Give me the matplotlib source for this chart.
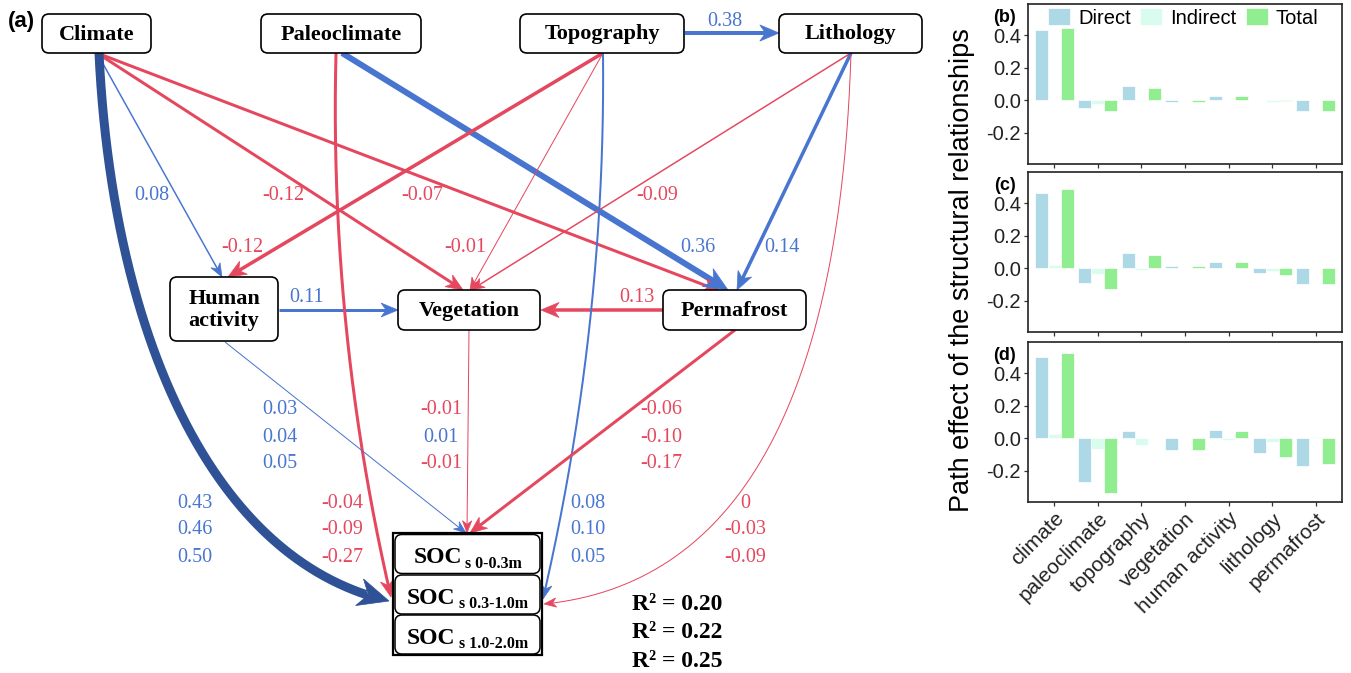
import numpy as np
import matplotlib
matplotlib.use("Agg")
import matplotlib.pyplot as plt
from matplotlib.patches import FancyBboxPatch, Polygon, Rectangle

# ---- path model (a) ----
nodes = ["Climate", "Paleoclimate", "Topography", "Lithology",
         "Human\nactivity", "Vegetation", "Permafrost"]

# paths between predictors
path_from = ["Climate", "Climate", "Climate", "Paleoclimate", "Topography",
             "Topography", "Topography", "Lithology", "Lithology",
             "Human\nactivity", "Permafrost"]
path_to = ["Human\nactivity", "Vegetation", "Permafrost", "Permafrost", "Lithology",
           "Human\nactivity", "Vegetation", "Vegetation", "Permafrost",
           "Vegetation", "Vegetation"]
path_coef = [0.08, -0.12, -0.07, 0.36, 0.38, -0.12, -0.01, -0.09, 0.14, 0.11, 0.13]

# paths to SOC for the three depth layers
soc_layers = ["0-0.3m", "0.3-1.0m", "1.0-2.0m"]
soc_from = ["Climate", "Paleoclimate", "Topography", "Lithology",
            "Human\nactivity", "Vegetation", "Permafrost"]
soc_coef = [[0.43, 0.46, 0.50],
            [-0.04, -0.09, -0.27],
            [0.08, 0.10, 0.05],
            [0, -0.03, -0.09],
            [0.03, 0.04, 0.05],
            [-0.01, 0.01, -0.01],
            [-0.06, -0.10, -0.17]]
r_squared = [0.20, 0.22, 0.25]

# ---- bar panels (b)-(d) ----
factors = ["climate", "paleoclimate", "topography", "vegetation",
           "human activity", "lithology", "permafrost"]
direct = [[0.43, -0.045, 0.086, -0.01, 0.027, 0.005, -0.068],
          [0.464, -0.088, 0.096, 0.012, 0.041, -0.029, -0.098],
          [0.50, -0.27, 0.045, -0.072, 0.053, -0.09, -0.17]]
indirect = [[0.005, -0.02, -0.004, 0.0, 0.0, -0.008, 0.0],
            [0.018, -0.037, -0.012, 0.0, 0.0, -0.014, 0.0],
            [0.025, -0.068, -0.043, 0.0, -0.01, -0.025, 0.008]]
total = [[0.44, -0.065, 0.078, -0.01, 0.027, -0.004, -0.068],
         [0.484, -0.125, 0.08, 0.012, 0.041, -0.042, -0.098],
         [0.525, -0.334, 0.004, -0.072, 0.043, -0.115, -0.16]]

BLUE = "#4875d0"
RED = "#e5485e"
NAVY = "#2f5195"
SERIF = "Liberation Serif"
SANS = "Liberation Sans"

# node boxes: centre x, centre y, width, height (pixel units)
node_box = {
    "Climate": (96.5, 33.5, 109, 39),
    "Paleoclimate": (341, 33.5, 160, 39),
    "Topography": (602, 33.5, 164, 39),
    "Lithology": (850.5, 33.5, 143, 39),
    "Human\nactivity": (224, 309, 108, 64),
    "Vegetation": (469, 310, 142, 40),
    "Permafrost": (734.5, 310, 143, 40),
}

# edge geometry: start, tip, bezier controls, width px, colour, label position
path_style = [
    ((97, 53), (222, 277), None, 1.5, BLUE, (152, 195)),
    ((97, 53), (463, 290), None, 3, RED, (283, 195)),
    ((97, 53), (720, 291), None, 3, RED, (422, 195)),
    ((342, 53), (728, 290), None, 6, BLUE, (698, 247)),
    ((685, 33), (779, 33), None, 4, BLUE, (725, 22)),
    ((603, 53), (228, 277), None, 3.5, RED, (242, 247)),
    ((603, 53), (470, 290), None, 1, RED, (465, 247)),
    ((851, 53), (471, 290), None, 1.5, RED, (657, 195)),
    ((851, 53), (737, 290), None, 3.5, BLUE, (782, 247)),
    ((279, 310), (398, 310), None, 3, BLUE, (307, 297)),
    ((663, 310), (541, 310), None, 3.5, RED, (637, 297)),
]
soc_style = [
    ((99, 53), (389, 601), [(112, 330), (210, 560)], 9, NAVY, (195, 503)),
    ((336, 53), (391, 597), [(329, 330)], 3, RED, (342, 503)),
    ((603, 53), (543, 599), [(606, 326)], 2, BLUE, (588, 503)),
    ((851, 53), (544, 604), [(835, 575)], 1, RED, (745, 503)),
    ((225, 342), (466, 533), None, 1, BLUE, (280, 410)),
    ((469, 330), (467, 533), None, 1, RED, (441, 410)),
    ((735, 330), (470, 533), None, 3, RED, (661, 410)),
]


def fmt(v):
    return "0" if v == 0 else f"{v:.2f}"


def bezier(p0, p1, ctrl, n=400):
    t = np.linspace(0, 1, n)[:, None]
    if ctrl is None:
        return (1 - t) * p0 + t * p1
    c = [np.array(q, float) for q in ctrl]
    if len(c) == 1:
        return (1 - t) ** 2 * p0 + 2 * (1 - t) * t * c[0] + t ** 2 * p1
    return ((1 - t) ** 3 * p0 + 3 * (1 - t) ** 2 * t * c[0]
            + 3 * (1 - t) * t ** 2 * c[1] + t ** 3 * p1)


def draw_arrow(ax, p0, p1, ctrl, lw_px, color):
    p0, p1 = np.array(p0, float), np.array(p1, float)
    pts = bezier(p0, p1, ctrl)
    seg = np.hypot(*np.diff(pts, axis=0).T)
    to_tip = np.concatenate([np.cumsum(seg[::-1])[::-1], [0]])
    head_len = 10 + 2.3 * lw_px
    head_w = 7 + 2.3 * lw_px
    base = pts[np.where(to_tip >= head_len)[0][-1]]
    u = (p1 - base) / np.hypot(*(p1 - base))
    n = np.array([-u[1], u[0]])
    back = p1 - head_len * u
    notch = p1 - 0.7 * head_len * u
    keep = pts[to_tip > 0.7 * head_len]
    line = np.vstack([keep, notch])
    ax.plot(line[:, 0], line[:, 1], color=color, lw=lw_px * 0.72,
            solid_capstyle="butt", zorder=2)
    ax.add_patch(Polygon([p1, back + n * head_w / 2, notch, back - n * head_w / 2],
                         closed=True, fc=color, ec=color, lw=0.5, zorder=3))


fig = plt.figure(figsize=(13.51, 6.73), dpi=100)
ax = fig.add_axes([0, 0, 1, 1])
ax.set_xlim(0, 1351)
ax.set_ylim(673, 0)
ax.axis("off")

for name in nodes:
    cx, cy, w, h = node_box[name]
    ax.add_patch(FancyBboxPatch((cx - w / 2, cy - h / 2), w, h,
                                boxstyle="round,pad=0,rounding_size=7",
                                fc="white", ec="black", lw=1.2, zorder=4))
    ax.text(cx, cy + 1, name, ha="center", va="center", family=SERIF,
            fontweight="bold", fontsize=16, linespacing=1.15, zorder=5)

for coef, (p0, p1, ctrl, lw, col, lab) in zip(path_coef, path_style):
    draw_arrow(ax, p0, p1, ctrl, lw, col)
    ax.text(*lab, fmt(coef), ha="center", va="center", family=SERIF,
            fontsize=14.5, color=col, zorder=6)

for coefs, (p0, p1, ctrl, lw, col, lab) in zip(soc_coef, soc_style):
    draw_arrow(ax, p0, p1, ctrl, lw, col)
    for k, v in enumerate(coefs):
        ax.text(lab[0], lab[1] + 27 * k, fmt(v), ha="center", va="center",
                family=SERIF, fontsize=14.5, color=BLUE if v > 0 else RED, zorder=6)

# stacked SOC boxes
ax.add_patch(Rectangle((393, 533), 149, 122, fc="white", ec="black", lw=1.6, zorder=4))
renderer = fig.canvas.get_renderer()
box_cy = [554, 594.5, 634.5]
for layer, cy in zip(soc_layers, box_cy):
    ax.add_patch(FancyBboxPatch((395, cy - 19.5), 145, 39,
                                boxstyle="round,pad=0,rounding_size=7",
                                fc="white", ec="black", lw=1.1, zorder=5))
    t1 = ax.text(0, cy + 9, "SOC", ha="left", va="baseline", family=SERIF,
                 fontweight="bold", fontsize=17, zorder=6)
    t2 = ax.text(0, cy + 14, "s " + layer, ha="left", va="baseline", family=SERIF,
                 fontweight="bold", fontsize=11.5, zorder=6)
    w1 = t1.get_window_extent(renderer).width
    w2 = t2.get_window_extent(renderer).width
    x0 = 467.5 - (w1 + 3 + w2) / 2
    t1.set_x(x0)
    t2.set_x(x0 + w1 + 3)

for k, r2 in enumerate(r_squared):
    ax.text(632, 610 + 28.5 * k, f"R\u00b2 = {r2:.2f}", ha="left", va="baseline",
            family=SERIF, fontweight="bold", fontsize=17)

ax.text(8, 21, "(a)", ha="left", va="center", family=SANS,
        fontweight="bold", fontsize=16)

# ---- bar panels ----
W, H = 1351, 673
tops = [4, 172, 342]
x = np.arange(1, len(factors) + 1)
bw = 0.3
cols = {"Direct": "#add8e6", "Indirect": "#d9fcef", "Total": "#90ee90"}
for i, top in enumerate(tops):
    bax = fig.add_axes([1028 / W, 1 - (top + 160) / H, 314 / W, 160 / H])
    for off, key, vals in [(-bw, "Direct", direct[i]), (0, "Indirect", indirect[i]),
                           (bw, "Total", total[i])]:
        bax.bar(x + off, vals, width=bw, color=cols[key], edgecolor="white",
                linewidth=0.5, label=key)
    bax.set_xlim(0.4, 7.6)
    bax.set_ylim(-0.39, 0.59)
    bax.set_yticks([-0.2, 0.0, 0.2, 0.4])
    bax.set_yticklabels(["-0.2", "0.0", "0.2", "0.4"])
    bax.set_xticks(x)
    for s in bax.spines.values():
        s.set_color("#222222")
        s.set_linewidth(1.2)
    bax.tick_params(axis="both", direction="out", length=3, width=0.9,
                    color="#333333", labelsize=14.5, labelcolor="#222222", pad=2)
    for lab in bax.get_yticklabels():
        lab.set_family(SANS)
    if i == 2:
        bax.set_xticklabels(factors, rotation=45, ha="right", rotation_mode="anchor",
                            family=SANS, fontsize=15)
    else:
        bax.set_xticklabels([])
    if i == 0:
        bax.legend(ncol=3, loc="upper left", bbox_to_anchor=(0.064, 0.975),
                   frameon=False, prop={"family": SANS, "size": 14.5},
                   handlelength=1.1, handleheight=0.95, handletextpad=0.4,
                   columnspacing=0.45, borderaxespad=0, borderpad=0)
    fig.text(1005 / W, 1 - (top + 13) / H, "(" + "bcd"[i] + ")", ha="center",
             va="center", family=SANS, fontweight="bold", fontsize=13)

fig.text(962 / W, 1 - 270 / H, "Path effect of the structural relationships",
         rotation=90, ha="center", va="center", family=SANS, fontsize=19.5)

fig.savefig("out.png", dpi=100)
